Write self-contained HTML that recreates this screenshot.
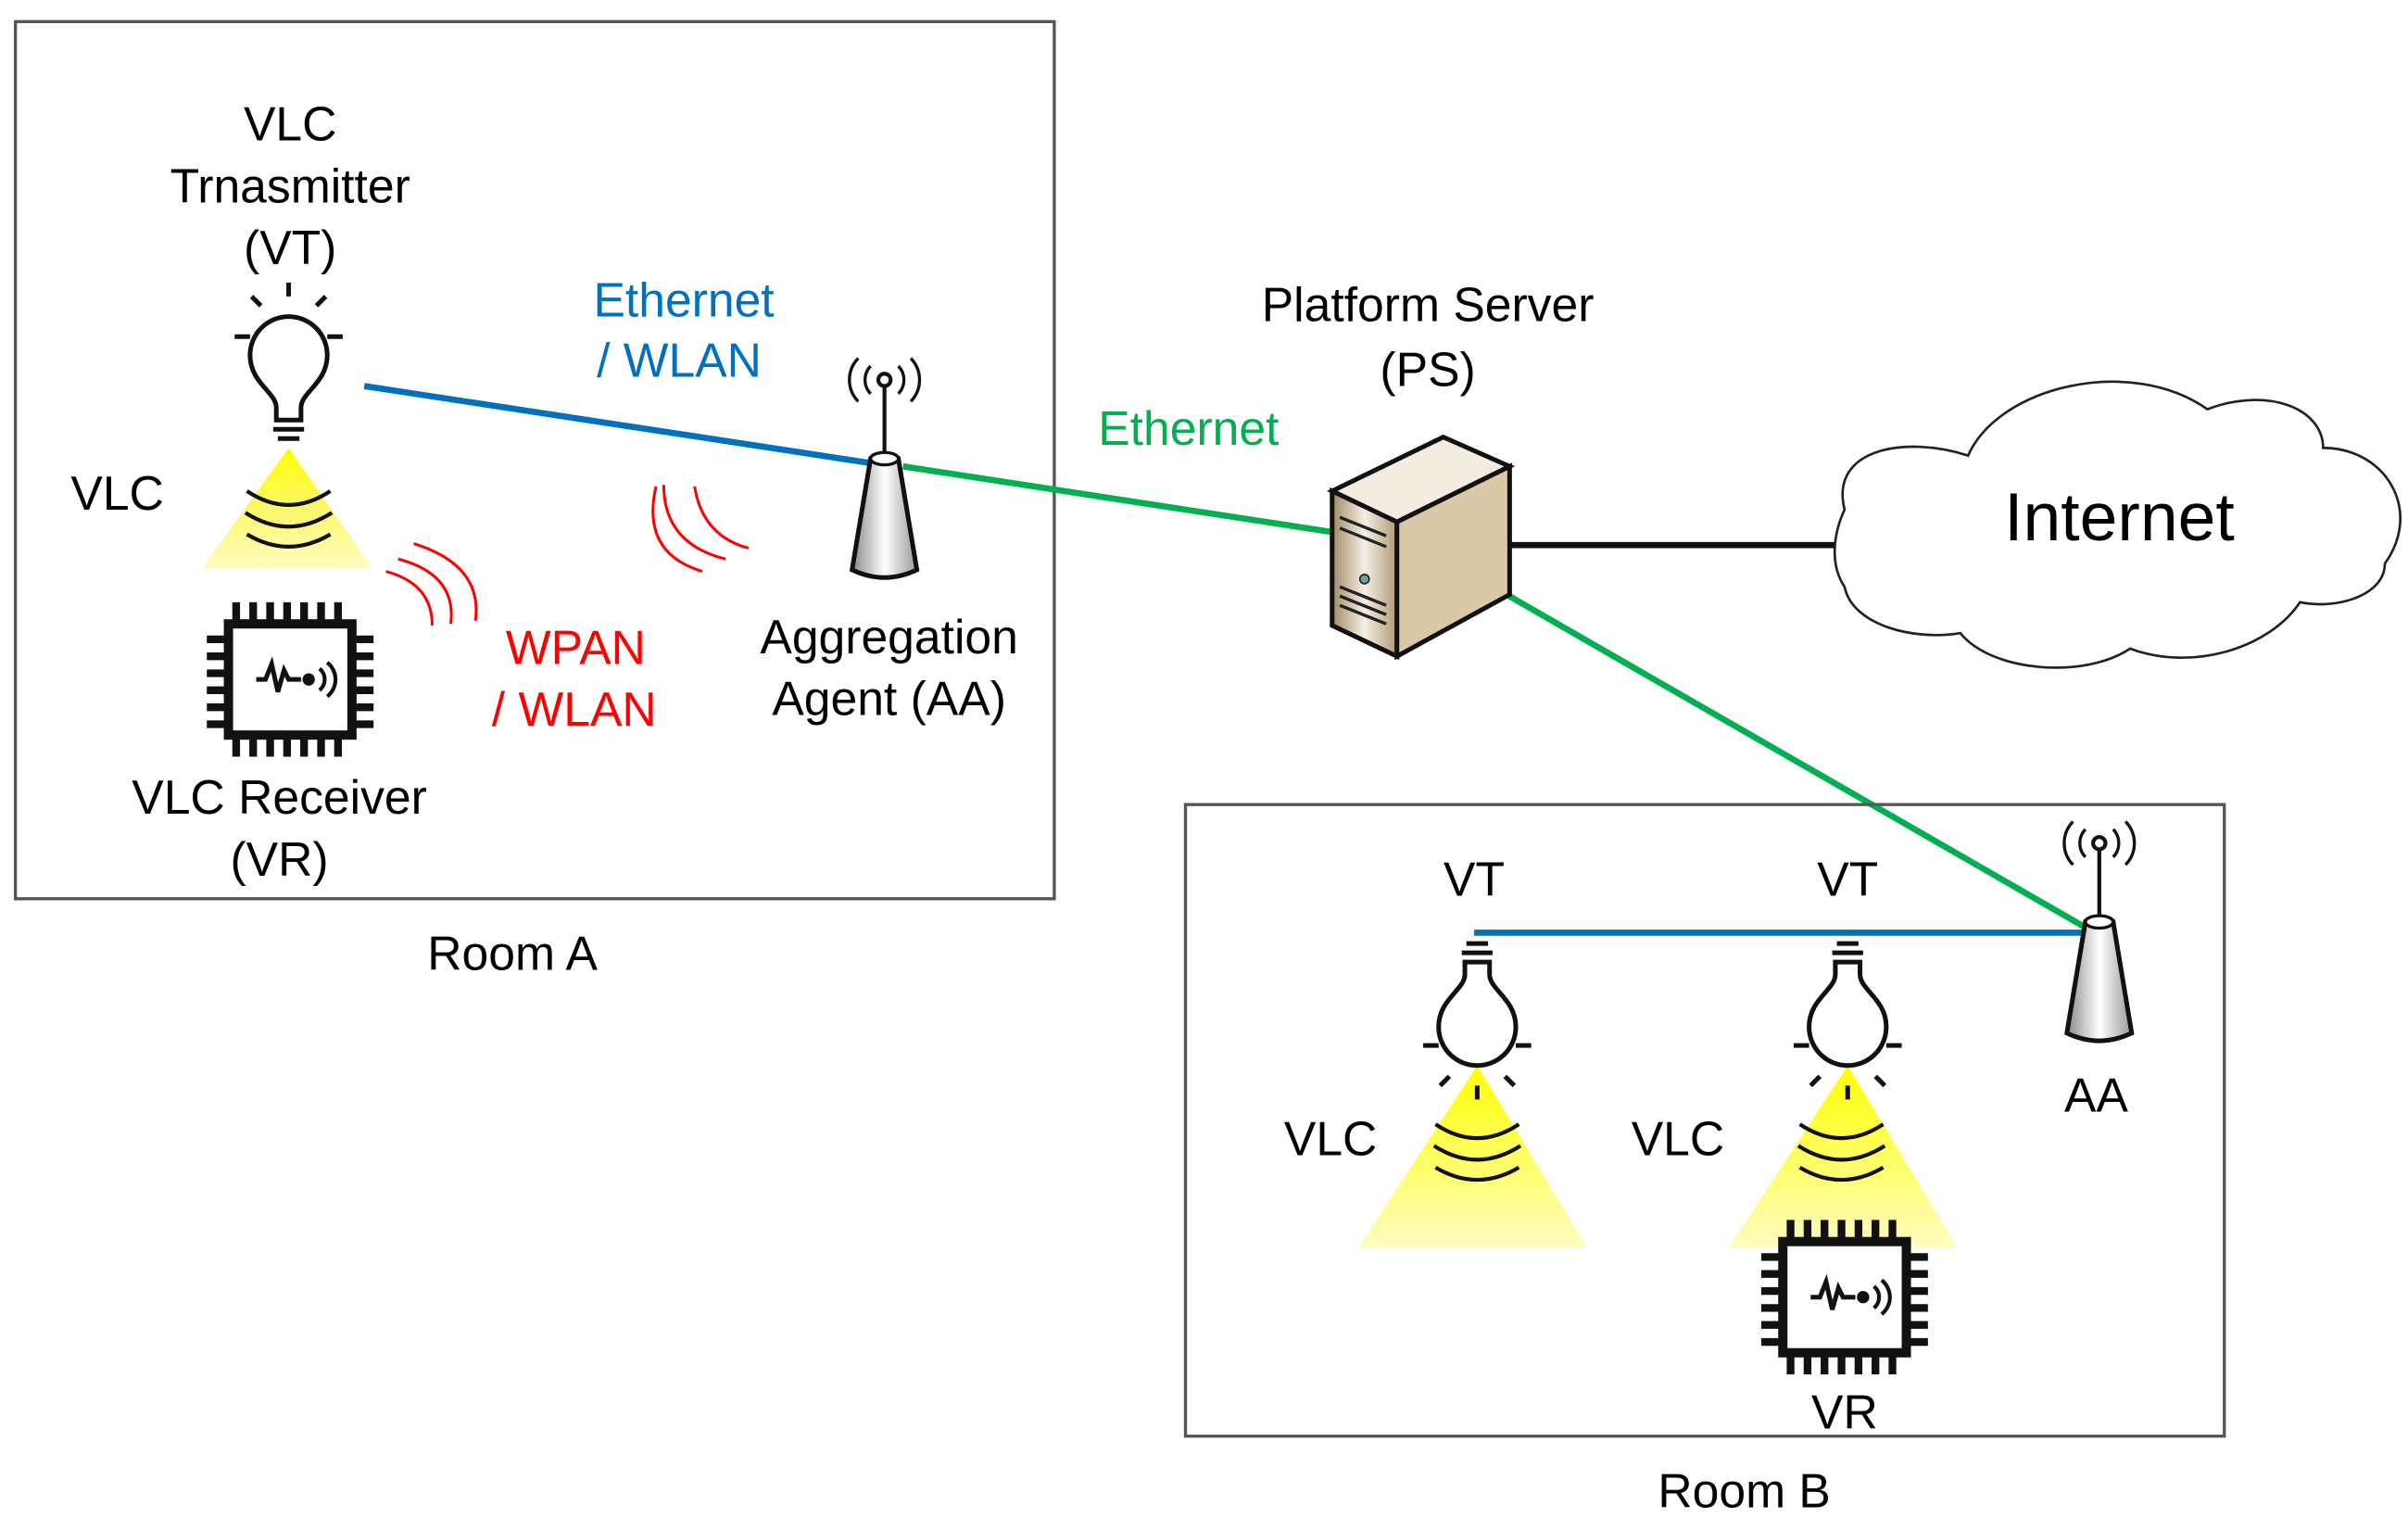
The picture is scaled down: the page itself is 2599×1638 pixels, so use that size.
<!DOCTYPE html>
<html><head><meta charset="utf-8"><style>
html,body{margin:0;padding:0;background:#fff}
svg{display:block}
text{font-family:"Liberation Sans","DejaVu Sans",sans-serif;font-size:31px;text-anchor:middle}
</style></head><body>
<svg width="2599" height="1638" viewBox="0 0 1560 983" preserveAspectRatio="none" xmlns="http://www.w3.org/2000/svg">
<defs>
<linearGradient id="ly" x1="0" y1="0" x2="0" y2="1"><stop offset="0" stop-color="#ffff00"/><stop offset="0.5" stop-color="#fdf76a"/><stop offset="1" stop-color="#fffcc0"/></linearGradient>
<linearGradient id="ly2" x1="0" y1="0" x2="0" y2="1"><stop offset="0" stop-color="#ffff00"/><stop offset="1" stop-color="#fffcc0"/></linearGradient>
<linearGradient id="sv" x1="0" y1="0" x2="1" y2="0"><stop offset="0" stop-color="#a08a66"/><stop offset="0.5" stop-color="#f5efe4"/><stop offset="1" stop-color="#b09a76"/></linearGradient>
<linearGradient id="tw" x1="0" y1="0" x2="1" y2="0"><stop offset="0" stop-color="#888"/><stop offset="0.5" stop-color="#fff"/><stop offset="1" stop-color="#999"/></linearGradient>
<g id="chip">
 <rect x="-40" y="-36" width="80" height="72" fill="#fff" stroke="#111" stroke-width="6"/>
 <g stroke="#111" stroke-width="5">
  <path d="M-35,-38v-12M-24,-38v-12M-13,-38v-12M-2,-38v-12M9,-38v-12M20,-38v-12M31,-38v-12"/>
  <path d="M-35,38v12M-24,38v12M-13,38v12M-2,38v12M9,38v12M20,38v12M31,38v12"/>
  <path d="M-42,-26h-12M-42,-15h-12M-42,-4h-12M-42,7h-12M-42,18h-12M-42,29h-12"/>
  <path d="M42,-26h12M42,-15h12M42,-4h12M42,7h12M42,18h12M42,29h12"/>
 </g>
 <path d="M-22,0h6l4,-10l4,18l4,-14l3,6h8" fill="none" stroke="#111" stroke-width="3"/>
 <circle cx="12" cy="0" r="4" fill="#111"/>
 <path d="M19,-7a9,9 0 0 1 0,14M24,-11a14,14 0 0 1 0,22" fill="none" stroke="#111" stroke-width="2.5"/>
</g>
<g id="bulb" fill="none" stroke="#111" stroke-width="3">
 <path d="M-8,32v-8c0,-10 -17,-16 -17,-34a25,25 0 0 1 50,0c0,18 -17,24 -17,34v8z"/>
 <path d="M-10,38h20M-7,44h14" stroke-width="3"/>
 <path d="M0,-48v-9M-25,-22h-10M25,-22h10M-18,-42l-6,-6M18,-42l6,-6"/>
</g>
<g id="tower">
 <path d="M-10,-30a10,10 0 0 1 20,0" fill="none" stroke="#888" stroke-width="0"/>
 <line x1="0" y1="-50" x2="0" y2="0" stroke="#111" stroke-width="2.5"/>
 <circle cx="0" cy="-54" r="4" fill="none" stroke="#111" stroke-width="2.5"/>
 <path d="M-9,-63a13,13 0 0 0 0,18M9,-63a13,13 0 0 1 0,18M-17,-68a20,20 0 0 0 0,28M17,-68a20,20 0 0 1 0,28" fill="none" stroke="#111" stroke-width="2"/>
 <path d="M-9,-3h18l12,72q-21,10 -42,0z" fill="url(#tw)" stroke="#111" stroke-width="3"/>
 <ellipse cx="0" cy="-3" rx="9" ry="4" fill="#fff" stroke="#111" stroke-width="2"/>
</g>
<g id="waves" fill="none" stroke="#111" stroke-width="2.5">
 <path d="M-27,-12q27,18 54,0M-28,2q28,18 56,0M-27,16q27,16 54,0"/>
</g>
</defs>

<!-- Room A -->
<rect x="10" y="14" width="673" height="568" fill="none" stroke="#555" stroke-width="2"/>
<text x="188" y="91">VLC</text>
<text x="188" y="131">Trnasmitter</text>
<text x="188" y="171">(VT)</text>
<polygon points="187,290 131,368 241,368" fill="url(#ly)"/>
<use href="#waves" x="187" y="330"/>
<use href="#bulb" x="187" y="240"/>
<text x="76" y="330">VLC</text>
<use href="#chip" x="188" y="440"/>
<text x="181" y="527">VLC Receiver</text>
<text x="181" y="567">(VR)</text>
<g fill="none" stroke="#f00" stroke-width="1.8">
 <path d="M250,370q30,8 30,35M258,362q38,10 34,42M268,352q45,14 40,50"/>
 <path d="M485,355q-30,-8 -35,-40M470,362q-40,-10 -40,-48M455,370q-40,-12 -30,-55"/>
</g>
<text x="373" y="430" fill="#f00">WPAN</text>
<text x="372" y="470" fill="#f00">/ WLAN</text>
<line x1="236" y1="250" x2="565" y2="300" stroke="#0070c0" stroke-width="4"/>
<text x="443" y="205" fill="#0070c0">Ethernet</text>
<text x="440" y="244" fill="#0070c0">/ WLAN</text>
<line x1="585" y1="302" x2="866" y2="345" stroke="#00b050" stroke-width="4"/>
<use href="#tower" x="573" y="300"/>
<text x="770" y="288" fill="#00b050">Ethernet</text>
<text x="576" y="423">Aggregation</text>
<text x="576" y="463">Agent (AA)</text>
<text x="332" y="628">Room A</text>

<!-- Server -->
<text x="925" y="208">Platform Server</text>
<text x="925" y="250">(PS)</text>
<line x1="976" y1="353" x2="1193" y2="353" stroke="#111" stroke-width="4"/>
<line x1="976" y1="385" x2="1350" y2="600" stroke="#00b050" stroke-width="4"/>
<polygon points="863,318 935,283 978,302 905,338" fill="#f3ece0" stroke="#111" stroke-width="3"/>
<polygon points="863,318 905,338 905,425 863,405" fill="url(#sv)" stroke="#111" stroke-width="3"/>
<polygon points="905,338 978,302 978,385 905,425" fill="#d9c9a8" stroke="#111" stroke-width="3"/>
<g stroke="#222" stroke-width="2"><path d="M868,335l30,12M868,342l30,12M868,380l30,12M868,386l30,12M868,392l30,12"/></g>
<circle cx="884" cy="375" r="3" fill="#6a9" stroke="#222"/>

<!-- Cloud -->
<path d="M1195,330 C1185,290 1235,282 1275,295 C1295,250 1380,230 1430,265 C1470,250 1505,265 1505,290 C1545,290 1570,330 1545,365 C1545,385 1515,395 1490,390 C1470,420 1420,435 1380,420 C1350,440 1290,435 1270,410 C1240,415 1200,405 1195,380 C1185,365 1188,345 1195,330 Z" fill="#fff" stroke="#222" stroke-width="1.6"/>
<text x="1373" y="350" style="font-size:44px">Internet</text>

<!-- Room B -->
<rect x="768" y="521" width="673" height="409" fill="none" stroke="#555" stroke-width="2"/>
<text x="955" y="580">VT</text>
<text x="1197" y="580">VT</text>
<line x1="955" y1="604" x2="1352" y2="604" stroke="#0070c0" stroke-width="4"/>
<polygon points="957,690 880,808 1028,808" fill="url(#ly2)"/>
<polygon points="1197,690 1120,808 1268,808" fill="url(#ly2)"/>
<use href="#waves" x="957" y="740"/>
<use href="#waves" x="1193" y="740"/>
<use href="#bulb" x="957" y="655" transform="rotate(180 957 655)"/>
<use href="#bulb" x="1197" y="655" transform="rotate(180 1197 655)"/>
<text x="862" y="748">VLC</text>
<text x="1087" y="748">VLC</text>
<use href="#tower" x="1360" y="600"/>
<text x="1358" y="720">AA</text>
<use href="#chip" x="1195" y="840"/>
<text x="1195" y="925">VR</text>
<text x="1130" y="976">Room B</text>
</svg>
</body></html>
